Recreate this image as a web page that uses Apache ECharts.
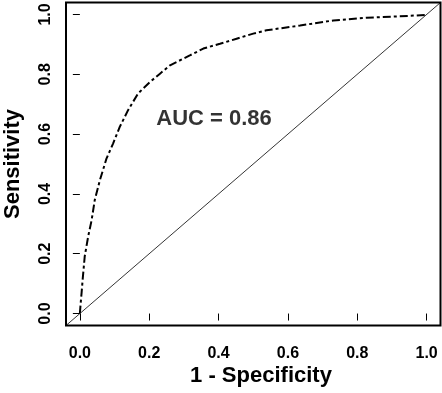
<!DOCTYPE html>
<html>
<head>
<meta charset="utf-8">
<script src="https://cdn.jsdelivr.net/npm/echarts@6/dist/echarts.min.js"></script>
<style>
  html, body { margin: 0; padding: 0; background: #fff; }
  #chart { width: 442px; height: 393px; }
</style>
</head>
<body>
<div id="chart"></div>
<script>
// ROC curve
var fpr = [0, 0.002, 0.005, 0.008, 0.014, 0.024, 0.034, 0.043, 0.058, 0.077, 0.096, 0.115, 0.139, 0.168, 0.202, 0.231, 0.26, 0.279, 0.317, 0.356, 0.404, 0.452, 0.5, 0.538, 0.635, 0.731, 0.827, 0.923, 0.995, 1.0];
var tpr = [0, 0.03, 0.07, 0.113, 0.191, 0.258, 0.313, 0.38, 0.447, 0.519, 0.569, 0.624, 0.68, 0.736, 0.774, 0.802, 0.83, 0.841, 0.863, 0.886, 0.902, 0.919, 0.936, 0.947, 0.963, 0.98, 0.989, 0.994, 0.998, 1.0];
var refLine = [-0.04, 1.04];
var tickValues = [0, 0.2, 0.4, 0.6, 0.8, 1.0];
var aucText = 'AUC = 0.86';
var aucPos = [0.387, 0.65];

var font = "'Liberation Sans', Arial, Helvetica, sans-serif";

var rocData = fpr.map(function(x, i) {
	return [x, tpr[i]];
});
var diagData = refLine.map(function(v) {
	return [v, v];
});

function axisOpt(isX) {
	return {
		type: 'value',
		min: -0.04,
		max: 1.04,
		splitLine: { show: false },
		axisLine: { show: false },
		axisTick: {
			show: true,
			customValues: tickValues,
			length: 7,
			lineStyle: { color: '#000', width: 1 }
		},
		axisLabel: {
			customValues: tickValues,
			// y labels read bottom to top, like R's las = 0
			rotate: isX ? 0 : 90,
			margin: isX ? 20 : 12,
			fontSize: 16,
			fontWeight: 'bold',
			fontFamily: font,
			color: '#000',
			formatter: function(v) { return v.toFixed(1); }
		}
	};
}

var chart = echarts.init(document.getElementById('chart'));
chart.setOption({
	animation: false,
	backgroundColor: '#fff',
	grid: {
		left: 66,
		right: 1.5,
		top: 2.5,
		bottom: 67.5,
		show: true,
		borderColor: '#000',
		borderWidth: 2,
		backgroundColor: 'transparent'
	},
	xAxis: axisOpt(true),
	yAxis: axisOpt(false),
	graphic: [{
		type: 'text',
		x: 261,
		y: 376,
		style: {
			text: '1 - Specificity',
			font: 'bold 22px ' + font,
			fill: '#000',
			align: 'center',
			verticalAlign: 'middle'
		}
	}, {
		type: 'text',
		x: 13,
		y: 164,
		rotation: Math.PI / 2,
		style: {
			text: 'Sensitivity',
			font: 'bold 22px ' + font,
			fill: '#000',
			align: 'center',
			verticalAlign: 'middle'
		}
	}],
	series: [{
		type: 'line',
		data: diagData,
		symbol: 'none',
		silent: true,
		lineStyle: { color: '#000', width: 0.8 }
	}, {
		type: 'line',
		data: rocData,
		symbol: 'none',
		lineStyle: { color: '#000', width: 2, type: [8, 3, 3, 3] }
	}, {
		type: 'scatter',
		data: [aucPos],
		symbolSize: 0,
		label: {
			show: true,
			position: 'inside',
			formatter: aucText,
			fontSize: 22,
			fontWeight: 'bold',
			fontFamily: font,
			color: '#000'
		}
	}]
});
</script>
</body>
</html>
